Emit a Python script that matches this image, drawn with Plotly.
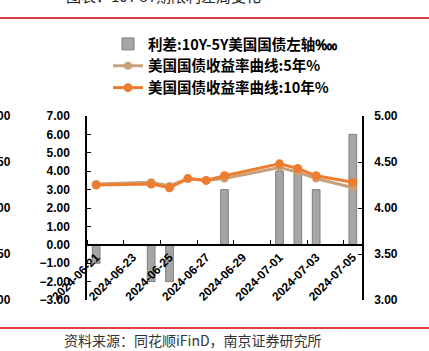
import plotly.graph_objects as go

dates = ["2024-06-21", "2024-06-24", "2024-06-25", "2024-06-26", "2024-06-27",
         "2024-06-28", "2024-07-01", "2024-07-02", "2024-07-03", "2024-07-05"]
spread_bp = [-1, -2, -2, 0, 0, 3, 4, 4, 3, 6]
y5 = [4.26, 4.28, 4.24, 4.32, 4.30, 4.32, 4.44, 4.39, 4.32, 4.22]
y10 = [4.25, 4.26, 4.22, 4.32, 4.30, 4.35, 4.48, 4.43, 4.35, 4.28]
left_ticks = [-3, -2, -1, 0, 1, 2, 3, 4, 5, 6, 7]
right_ticks = [3.0, 3.5, 4.0, 4.5, 5.0]
ghost_labels = ["5.00", "4.50", "4.00", "3.50", "3.00"]

W, H = 429, 351
ML, MR, MT, MB = 87, 67, 116, 51
PW, PH = W - ML - MR, H - MT - MB

def px_x(x):
    return (x - ML) / PW

def px_y(y):
    return (H - MB - y) / PH

BOLD = dict(family="Liberation Sans, Arial", size=12, color="black", weight="bold")
CJK = dict(family="Noto Sans CJK SC", size=14.5, color="black", weight="bold")

fig = go.Figure()
fig.add_trace(go.Bar(
    x=dates, y=spread_bp, name="利差:10Y-5Y美国国债左轴‱",
    marker=dict(color="#A6A6A6", line=dict(color="#7F7F7F", width=1)),
    width=0.42 * 86400000, yaxis="y",
))
fig.add_trace(go.Scatter(
    x=dates, y=y5, name="美国国债收益率曲线:5年%", mode="lines+markers",
    line=dict(color="#C8A07A", width=3), marker=dict(size=8, color="#C8A07A"),
    yaxis="y2",
))
fig.add_trace(go.Scatter(
    x=dates, y=y10, name="美国国债收益率曲线:10年%", mode="lines+markers",
    line=dict(color="#ED7D31", width=3), marker=dict(size=9, color="#ED7D31"),
    yaxis="y2",
))

fig.update_layout(
    width=W, height=H,
    margin=dict(l=ML, r=MR, t=MT, b=MB),
    paper_bgcolor="white", plot_bgcolor="white",
    showlegend=True,
    legend=dict(x=px_x(108), y=px_y(28), xanchor="left", yanchor="top",
                font=CJK, bgcolor="rgba(0,0,0,0)", tracegroupgap=0,
                itemwidth=30),
    xaxis=dict(
        type="date",
        range=["2024-06-20 12:00", "2024-07-05 12:00"],
        anchor="free", position=0.3,
        showline=True, linecolor="black", linewidth=1.5,
        showgrid=False, zeroline=False,
        tick0="2024-06-21", dtick=2 * 86400000, tickformat="%Y-%m-%d",
        ticks="", tickangle=-45, tickfont=BOLD,
        minor=dict(ticks="inside", tick0="2024-06-22 12:00", dtick=2 * 86400000,
                   ticklen=4, tickcolor="black", tickwidth=1.2, showgrid=False),
    ),
    yaxis=dict(
        range=[-3, 7], tickvals=left_ticks, tickformat=".2f",
        showline=True, linecolor="black", linewidth=1.5,
        ticks="inside", ticklen=4, tickcolor="black",
        showgrid=False, zeroline=False, tickfont=BOLD,
        ticklabelstandoff=13,
    ),
    yaxis2=dict(
        range=[3, 5], tickvals=right_ticks, tickformat=".2f",
        overlaying="y", side="right",
        showline=True, linecolor="black", linewidth=1.5,
        ticks="inside", ticklen=4, tickcolor="black",
        showgrid=False, zeroline=False, tickfont=BOLD,
        ticklabelstandoff=8,
    ),
)

# decorative red rules
for yy in (18, 328):
    fig.add_shape(type="line", xref="paper", yref="paper",
                  x0=px_x(0), x1=px_x(W), y0=px_y(yy), y1=px_y(yy),
                  line=dict(color="#D00000", width=1.5))

# title partly cut off at the top
fig.add_annotation(text="图表：10Y-5Y期限利差周变化", xref="paper", yref="paper",
                   x=px_x(163), y=px_y(-5), xanchor="center", yanchor="middle",
                   showarrow=False,
                   font=dict(family="Noto Sans CJK SC", size=15, color="#222"))

# source
fig.add_annotation(text="资料来源：同花顺iFinD，南京证券研究所", xref="paper", yref="paper",
                   x=px_x(62), y=px_y(340), xanchor="left", yanchor="middle",
                   showarrow=False,
                   font=dict(family="Noto Sans CJK SC", size=14, color="#333"))

# ghost axis labels from an adjacent chart at the far left edge
for i, t in enumerate(ghost_labels):
    yv = right_ticks[::-1][i]
    fig.add_annotation(text=t, xref="paper", yref="y2", x=px_x(13), y=yv,
                       xanchor="right", yanchor="middle", showarrow=False,
                       font=BOLD)

fig.write_html("out.html")
